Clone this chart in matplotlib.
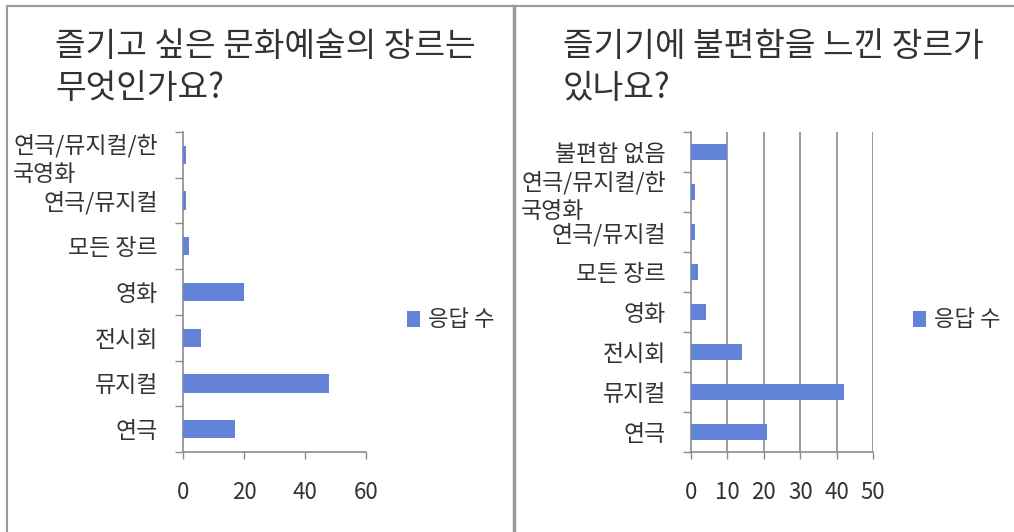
import matplotlib
matplotlib.use("Agg")
import matplotlib.pyplot as plt
from matplotlib.lines import Line2D

plt.rcParams['font.family'] = ['Noto Sans CJK KR', 'DejaVu Sans']

# survey answers, bottom to top as they are stacked on the y axis
want_genres = ["연극", "뮤지컬", "전시회", "영화", "모든 장르", "연극/뮤지컬",
               "연극/뮤지컬/한\n국영화"]
want_counts = [17, 48, 6, 20, 2, 1, 1]

hard_genres = ["연극", "뮤지컬", "전시회", "영화", "모든 장르", "연극/뮤지컬",
               "연극/뮤지컬/한\n국영화", "불편함 없음"]
hard_counts = [21, 42, 14, 4, 2, 1, 1, 10]

want_title = "즐기고 싶은 문화예술의 장르는\n무엇인가요?"
hard_title = "즐기기에 불편함을 느낀 장르가\n있나요?"
series_name = "응답 수"

BAR_COLOR = '#6283d8'
AXIS_COLOR = '#8c8c8c'
TEXT_COLOR = '#333333'
W, H = 1014, 532


def fx(px):
    return px / W


def fy(px):
    return 1 - px / H


def draw_panel(fig, left, right, genres, counts, xmax, step, title,
               title_x, legend_x, bar_h, grid=False):
    ax = fig.add_axes([fx(left), fy(452), fx(right - left), (452 - 132) / H])
    ypos = list(range(len(genres)))
    bars = ax.barh(ypos, counts, height=bar_h, color=BAR_COLOR,
                   label=series_name, zorder=3)
    ax.set_xlim(0, xmax)
    ax.set_ylim(-0.5, len(genres) - 0.5)

    ax.set_xticks(range(0, xmax + 1, step))
    ax.tick_params(axis='x', length=5, width=1, color=AXIS_COLOR, pad=16,
                   labelsize=16, labelcolor=TEXT_COLOR)
    ax.set_yticks(ypos)
    ax.set_yticklabels(genres)
    ax.set_yticks([y - 0.5 for y in range(len(genres) + 1)], minor=True)
    ax.tick_params(axis='y', which='major', length=0, pad=18, labelsize=16.5,
                   labelcolor=TEXT_COLOR)
    ax.tick_params(axis='y', which='minor', length=6, width=1,
                   color=AXIS_COLOR)
    for lab in ax.get_yticklabels():
        lab.set_multialignment('left')
        lab.set_linespacing(1.3)

    for side in ('top', 'right'):
        ax.spines[side].set_visible(False)
    for side in ('left', 'bottom'):
        ax.spines[side].set_color(AXIS_COLOR)
        ax.spines[side].set_linewidth(1.2)

    if grid:
        for v in range(step, xmax + 1, step):
            ax.axvline(v, color=AXIS_COLOR, lw=1.2, zorder=1)

    fig.text(fx(title_x), fy(29), title, ha='left', va='top', fontsize=24,
             color=TEXT_COLOR, linespacing=1.25)
    fig.legend(handles=[bars], labels=[series_name], loc='center left',
               bbox_to_anchor=(fx(legend_x), fy(320)), frameon=False,
               fontsize=16, handlelength=0.6, handleheight=0.7,
               handletextpad=0.35, borderpad=0, borderaxespad=0,
               labelcolor=TEXT_COLOR)
    return ax


fig = plt.figure(figsize=(W / 100, H / 100), dpi=100)

draw_panel(fig, 183, 366, want_genres, want_counts, 60, 20, want_title,
           55, 407, 0.4)
draw_panel(fig, 691, 873, hard_genres, hard_counts, 50, 10, hard_title,
           563, 913, 0.38, grid=True)

# frame around the two panels
frame = dict(color='#9a9a9a', transform=fig.transFigure)
fig.add_artist(Line2D([fx(7), 1], [fy(6), fy(6)], lw=1.5, **frame))
fig.add_artist(Line2D([fx(7), fx(7)], [fy(6), 0], lw=1.5, **frame))
fig.add_artist(Line2D([fx(514), fx(514)], [fy(6), 0], lw=2.5, **frame))

fig.savefig("out.png", dpi=100)
